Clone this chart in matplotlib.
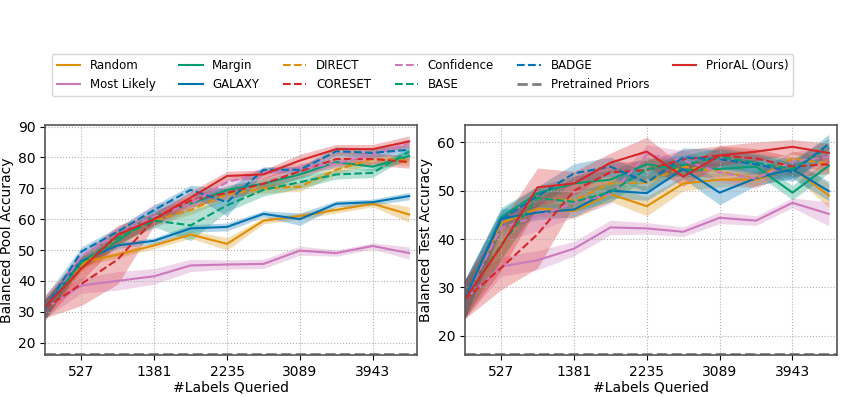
import numpy as np
import matplotlib
matplotlib.use("Agg")
import matplotlib.pyplot as plt

# labels queried at each round
x_labels = [100, 527, 954, 1381, 1808, 2235, 2662, 3089, 3516, 3943, 4370]
x_ticks = [527, 1381, 2235, 3089, 3943]

methods = ["Random", "Most Likely", "Margin", "GALAXY", "DIRECT", "CORESET",
           "Confidence", "BASE", "BADGE", "PriorAL (Ours)"]

# balanced pool accuracy (mean)
pool_random = [31, 46, 48.5, 51.5, 55, 52, 59.5, 61, 63, 65, 61.5]
pool_most_likely = [31, 38.5, 40, 41.5, 45, 45.3, 45.5, 49.8, 49, 51.3, 49]
pool_margin = [31, 46, 53, 61, 65, 69.5, 71.5, 74.5, 78.5, 77, 80.5]
pool_galaxy = [31, 46.5, 51.5, 53, 57, 57.5, 61.7, 60, 65, 65.5, 67.5]
pool_direct = [31, 45, 54, 59.5, 63, 68, 70, 70.5, 76, 79.5, 79]
pool_coreset = [31, 39, 47, 60, 66, 68.5, 71.5, 75.5, 79.5, 79.5, 78.5]
pool_confidence = [31, 48, 55, 61, 65, 72, 75, 76.5, 78, 81, 84.5]
pool_base = [31, 46, 54, 59.5, 58, 64.5, 69.5, 72, 74.5, 75, 82]
pool_badge = [31, 49.5, 56, 63, 69.5, 65.5, 76, 76, 82, 81.5, 82.5]
pool_prioral = [31.5, 44, 55, 60, 67, 74, 74.5, 79, 82.7, 82.7, 85.2]
pool_pretrained = 16.3

# balanced pool accuracy (std)
pool_random_sd = [3, 1.5, 1, 1, 1.2, 2, 1, 1, 1, 1, 2.5]
pool_most_likely_sd = [3, 2.5, 3, 2.5, 2, 1.5, 1.5, 1.5, 1, 1, 2]
pool_margin_sd = [3, 2, 2, 2, 1.5, 1.5, 1.5, 1.5, 1.5, 1.5, 1.5]
pool_galaxy_sd = [3, 1.5, 1, 1, 1.2, 1.3, 1, 2, 1, 1, 1.2]
pool_direct_sd = [3, 2, 2, 1.5, 1.5, 1.5, 1.5, 1.5, 1.5, 1.5, 1.5]
pool_coreset_sd = [3, 7, 8, 2, 2, 2, 2, 2, 2, 2, 2]
pool_confidence_sd = [3, 2, 2, 4, 2, 1.5, 1.5, 1.5, 1.5, 1.5, 1.5]
pool_base_sd = [3, 2, 2, 2, 5, 2, 2, 2, 1.5, 1.5, 1.5]
pool_badge_sd = [4, 1.5, 1.5, 1.5, 1.5, 4.5, 1, 1, 1.5, 1.5, 1.5]
pool_prioral_sd = [4, 4, 3, 2, 2, 1.5, 1.5, 2, 1.5, 1.5, 1.8]

# balanced test accuracy (mean)
test_random = [27.5, 43.3, 46.3, 45.8, 49.3, 46.8, 51.5, 52.3, 52.3, 54.7, 49]
test_most_likely = [27.5, 34.3, 35.6, 38, 42.4, 42.2, 41.5, 44.4, 43.8, 47.5, 45.2]
test_margin = [27.5, 44.5, 49.5, 51.5, 52.3, 55.5, 54.3, 54.5, 55, 49.6, 55.2]
test_galaxy = [27.5, 44.2, 45.5, 46.1, 50, 49.5, 54.5, 49.6, 52.6, 54.5, 49.9]
test_direct = [27.5, 39, 48.5, 48, 51.5, 51.7, 55, 54, 52.5, 56.7, 55.5]
test_coreset = [27.5, 34, 41, 50, 53.8, 54.3, 56.5, 57.3, 56.7, 55, 55.5]
test_confidence = [27.5, 42.3, 44.7, 47.5, 49.3, 57.5, 56.3, 53.8, 52.5, 56, 57]
test_base = [27.5, 38.8, 48.5, 47.7, 49.7, 54.5, 55.3, 57, 55.8, 54.5, 58.9]
test_badge = [27.5, 44, 48.9, 53.6, 55, 51.7, 56.9, 56.5, 55.5, 53.9, 59.7]
test_prioral = [27.5, 38.5, 50.7, 51.5, 55.8, 58.1, 52.9, 57.3, 58.1, 59.1, 57.8]
test_pretrained = 16.2

# balanced test accuracy (std)
test_random_sd = [4, 2, 1.5, 1.5, 1.5, 2, 1.5, 1.5, 1.5, 1.5, 2.5]
test_most_likely_sd = [4, 2, 2, 1.5, 1.5, 1.2, 1, 1.2, 1, 1, 2.5]
test_margin_sd = [4, 2, 1.5, 1.5, 2, 1.5, 1.5, 1.5, 1.5, 1.5, 1.5]
test_galaxy_sd = [4, 2, 1.5, 1.5, 1.5, 1.5, 2, 2.5, 1.5, 2, 2]
test_direct_sd = [4, 3, 1.5, 1.5, 1.5, 1.5, 1.5, 1.5, 1.5, 1.5, 1.5]
test_coreset_sd = [4, 4.5, 7, 3, 2, 2, 2, 2, 2, 2, 2]
test_confidence_sd = [4, 3, 3, 3, 2, 2, 2, 2, 2, 2, 2]
test_base_sd = [4, 3, 2, 2, 2, 2, 2, 2, 2, 2, 2]
test_badge_sd = [4, 2, 2, 2, 2, 2, 2, 2, 2, 2, 2]
test_prioral_sd = [4, 5, 4, 2.5, 2, 3, 2, 2, 2, 1.5, 2]

colors = {
    "Random": "#DE8F05", "Most Likely": "#CC78BC", "Margin": "#029E73",
    "GALAXY": "#0173B2", "DIRECT": "#DE8F05", "CORESET": "#D62728",
    "Confidence": "#CC78BC", "BASE": "#029E73", "BADGE": "#0173B2",
    "PriorAL (Ours)": "#D62728",
}
dashed = {"DIRECT", "CORESET", "Confidence", "BASE", "BADGE"}

pool_means = [pool_random, pool_most_likely, pool_margin, pool_galaxy, pool_direct,
              pool_coreset, pool_confidence, pool_base, pool_badge, pool_prioral]
pool_sds = [pool_random_sd, pool_most_likely_sd, pool_margin_sd, pool_galaxy_sd,
            pool_direct_sd, pool_coreset_sd, pool_confidence_sd, pool_base_sd,
            pool_badge_sd, pool_prioral_sd]
test_means = [test_random, test_most_likely, test_margin, test_galaxy, test_direct,
              test_coreset, test_confidence, test_base, test_badge, test_prioral]
test_sds = [test_random_sd, test_most_likely_sd, test_margin_sd, test_galaxy_sd,
            test_direct_sd, test_coreset_sd, test_confidence_sd, test_base_sd,
            test_badge_sd, test_prioral_sd]


def draw_panel(ax, means, sds, pretrained, ylabel, ylim, yticks):
    x = np.array(x_labels)
    handles = {}
    for name, m, s in zip(methods, means, sds):
        m = np.array(m)
        s = np.array(s)
        ax.fill_between(x, m - s, m + s, color=colors[name], alpha=0.3, linewidth=0)
        ls = "--" if name in dashed else "-"
        h, = ax.plot(x, m, ls, color=colors[name], lw=1.5, label=name)
        handles[name] = h
    h, = ax.plot([x[0], x[-1] + 200], [pretrained, pretrained], "--", color="#808080",
                 lw=2, label="Pretrained Priors")
    handles["Pretrained Priors"] = h
    ax.set_xlim(100, 4460)
    ax.set_ylim(*ylim)
    ax.set_xticks(x_ticks)
    ax.set_yticks(yticks)
    ax.tick_params(labelsize=10)
    ax.set_xlabel("#Labels Queried", fontsize=10, labelpad=1)
    ax.set_ylabel(ylabel, fontsize=10, labelpad=3)
    ax.grid(True, linestyle=":", color="#b0b0b0", linewidth=0.8)
    for sp in ax.spines.values():
        sp.set_color("#555555")
        sp.set_linewidth(1.2)
    return handles


fig = plt.figure(figsize=(8.45, 3.97), dpi=100)
ax1 = fig.add_axes([0.0533, 0.106, 0.440, 0.579])
ax2 = fig.add_axes([0.550, 0.106, 0.440, 0.579])

handles = draw_panel(ax1, pool_means, pool_sds, pool_pretrained,
                     "Balanced Pool Accuracy", (16, 90.5), range(20, 91, 10))
draw_panel(ax2, test_means, test_sds, test_pretrained,
           "Balanced Test Accuracy", (16, 63.6), range(20, 61, 10))

order = ["Random", "Most Likely", "Margin", "GALAXY", "DIRECT", "CORESET",
         "Confidence", "BASE", "BADGE", "Pretrained Priors", "PriorAL (Ours)"]
fig.legend([handles[k] for k in order], order, loc="upper center",
           bbox_to_anchor=(0.5, 0.878), ncol=6, fontsize=8.5, frameon=True)

fig.savefig("out.png", dpi=100)
